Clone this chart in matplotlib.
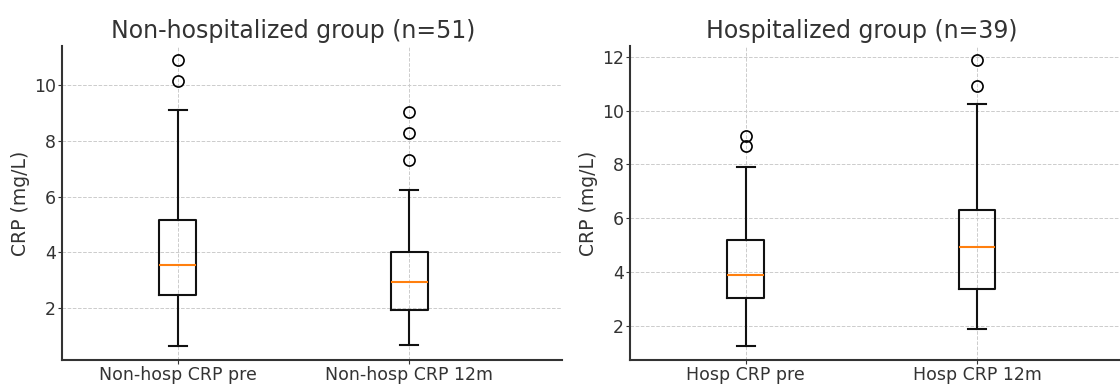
import matplotlib
matplotlib.use('Agg')
import matplotlib.pyplot as plt

# box statistics (CRP in mg/L)
nonhosp_labels = ['Non-hosp CRP pre', 'Non-hosp CRP 12m']
nonhosp_low = [0.65, 0.68]
nonhosp_q1 = [2.48, 1.93]
nonhosp_med = [3.53, 2.93]
nonhosp_q3 = [5.16, 4.01]
nonhosp_high = [9.10, 6.25]
nonhosp_fliers = [[10.14, 10.89], [7.33, 8.29, 9.04]]

hosp_labels = ['Hosp CRP pre', 'Hosp CRP 12m']
hosp_low = [1.25, 1.86]
hosp_q1 = [3.04, 3.35]
hosp_med = [3.89, 4.93]
hosp_q3 = [5.20, 6.32]
hosp_high = [7.90, 10.25]
hosp_fliers = [[8.67, 9.06], [10.91, 11.88]]


def make_stats(labels, low, q1, med, q3, high, fliers):
    stats = []
    for i in range(len(labels)):
        stats.append({'label': labels[i], 'whislo': low[i], 'q1': q1[i],
                      'med': med[i], 'q3': q3[i], 'whishi': high[i],
                      'fliers': fliers[i]})
    return stats


def draw(ax, stats, title):
    ax.bxp(stats, positions=[1, 2], widths=0.158,
           medianprops={'color': '#ff7f0e', 'linewidth': 1.5},
           boxprops={'color': '#111111', 'linewidth': 1.5},
           whiskerprops={'color': '#111111', 'linewidth': 1.5},
           capprops={'color': '#111111', 'linewidth': 1.5},
           flierprops={'marker': 'o', 'markerfacecolor': 'none',
                       'markeredgecolor': 'black', 'markersize': 8,
                       'markeredgewidth': 1.2})
    ax.set_xlim(0.5, 2.66)
    ax.set_ylabel('CRP (mg/L)', fontsize=13.5, color='#333333', labelpad=3)
    ax.set_title(title, fontsize=17, color='#333333', x=0.463)
    ax.grid(True, linestyle='--', color='#cccccc', linewidth=0.7)
    ax.set_axisbelow(True)
    for s in ['top', 'right']:
        ax.spines[s].set_visible(False)
    for s in ['left', 'bottom']:
        ax.spines[s].set_color('#333333')
        ax.spines[s].set_linewidth(1.5)
    ax.tick_params(labelsize=12.5, colors='#333333', length=3, pad=1.5)


fig = plt.figure(figsize=(11.2, 3.85), dpi=100)
ax1 = fig.add_axes([0.0554, 0.0649, 0.4464, 0.8156])
ax2 = fig.add_axes([0.5625, 0.0649, 0.4464, 0.8156])

draw(ax1, make_stats(nonhosp_labels, nonhosp_low, nonhosp_q1, nonhosp_med,
                     nonhosp_q3, nonhosp_high, nonhosp_fliers),
     'Non-hospitalized group (n=51)')
draw(ax2, make_stats(hosp_labels, hosp_low, hosp_q1, hosp_med,
                     hosp_q3, hosp_high, hosp_fliers),
     'Hospitalized group (n=39)')

plt.savefig('out.png', dpi=100)
